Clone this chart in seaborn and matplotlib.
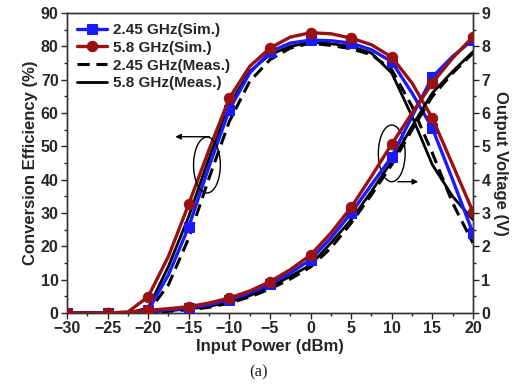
import numpy as np
import pandas as pd
import matplotlib
matplotlib.use("Agg")
import matplotlib.pyplot as plt
from matplotlib.patches import Ellipse
import seaborn as sns

# ---- data ----
power = [-30, -27.5, -25, -22.5, -20, -17.5, -15, -12.5, -10, -7.5, -5, -2.5,
         0, 2.5, 5, 7.5, 10, 12.5, 15, 17.5, 20]

eff_245_sim = [0, 0, 0, 0, 0.8, 11.5, 25.9, 44, 61, 72, 78.4, 81, 81.9, 81.7,
               81.0, 79, 75.4, 66, 55.5, 40, 24]
eff_58_sim = [0, 0, 0, 0.3, 4.9, 17, 32.7, 49, 64.5, 74, 79.5, 82.8, 84.1, 83.8,
              82.5, 80.5, 76.8, 69, 58.5, 44.5, 30.4]
eff_245_meas = [0, 0, 0, 0, 0.3, 8.5, 22.5, 40.5, 57.5, 69.5, 76, 79.5, 81, 80.3,
                79.3, 77.5, 73, 62, 48, 33, 21]
eff_58_meas = [0, 0, 0, 0, 1.5, 14, 29, 46.5, 62.5, 72.5, 77.5, 80, 81.3, 80.8,
               80, 78, 72, 59, 44.5, 35, 28]

v_245_sim = [0, 0, 0, 0.01, 0.05, 0.1, 0.15, 0.25, 0.4, 0.6, 0.87, 1.2, 1.6, 2.25,
             3.0, 3.85, 4.69, 5.9, 7.08, 7.7, 8.2]
v_58_sim = [0, 0, 0, 0.02, 0.08, 0.13, 0.19, 0.3, 0.45, 0.66, 0.94, 1.3, 1.74, 2.4,
            3.17, 4.1, 5.07, 6.0, 6.9, 7.65, 8.29]
v_245_meas = [0, 0, 0, 0, 0.02, 0.05, 0.1, 0.17, 0.3, 0.48, 0.72, 1.02, 1.38, 1.95,
              2.7, 3.55, 4.45, 5.5, 6.5, 7.2, 7.8]
v_58_meas = [0, 0, 0, 0, 0.03, 0.07, 0.12, 0.2, 0.33, 0.52, 0.78, 1.1, 1.44, 2.1,
             2.8, 3.65, 4.55, 5.6, 6.6, 7.25, 7.84]

labels = ["2.45 GHz(Sim.)", "5.8 GHz(Sim.)", "2.45 GHz(Meas.)", "5.8 GHz(Meas.)"]
x_ticks = [-30, -25, -20, -15, -10, -5, 0, 5, 10, 15, 20]

sns.set_style("ticks")
plt.rcParams['font.family'] = ['Liberation Sans', 'DejaVu Sans']
plt.rcParams['font.weight'] = 'bold'
plt.rcParams['axes.labelweight'] = 'bold'

fig = plt.figure(figsize=(5.18, 3.85), dpi=100)
ax = fig.add_axes([0.1293, 0.187, 0.7837, 0.779])
ax2 = ax.twinx()

blue = "#1a1aff"
red = "#9b1010"

styles = [
    dict(color=blue, marker="s", ms=6.5, lw=2.4, ls="-"),
    dict(color=red, marker="o", ms=7.5, lw=2.4, ls="-"),
    dict(color="black", marker=None, ms=0, lw=2.2, ls=(0, (4, 2.2))),
    dict(color="black", marker=None, ms=0, lw=2.0, ls="-"),
]

eff_series = [eff_245_sim, eff_58_sim, eff_245_meas, eff_58_meas]
v_series = [v_245_sim, v_58_sim, v_245_meas, v_58_meas]

order = [2, 3, 0, 1]
zs = {0: 3, 1: 4, 2: 2, 3: 2}
for i in order:
    st = styles[i]
    df = pd.DataFrame({"P": power, "E": eff_series[i]})
    kw = dict(color=st["color"], lw=st["lw"], linestyle=st["ls"], zorder=zs[i])
    if st["marker"]:
        kw.update(marker=st["marker"], markersize=st["ms"], markevery=2,
                  markeredgecolor=st["color"])
    sns.lineplot(data=df, x="P", y="E", ax=ax, label=labels[i], legend=False, **kw)
    dfv = pd.DataFrame({"P": power, "V": v_series[i]})
    sns.lineplot(data=dfv, x="P", y="V", ax=ax2, legend=False, **kw)

ax.set_xlim(-30, 20)
ax.set_ylim(0, 90)
ax2.set_ylim(0, 9)
ax.set_xticks(x_ticks)
ax.set_yticks(np.arange(0, 91, 10))
ax2.set_yticks(np.arange(0, 10, 1))
ax.set_xticks(np.arange(-27.5, 20, 5), minor=True)
ax.set_yticks(np.arange(5, 90, 10), minor=True)
ax2.set_yticks(np.arange(0.5, 9, 1), minor=True)

for a in (ax, ax2):
    a.tick_params(which="major", length=4, width=1, labelsize=11.5, direction="out", pad=2)
    a.tick_params(which="minor", length=2.5, width=1, direction="out")
    for s in a.spines.values():
        s.set_linewidth(1.0)
        s.set_color("#333333")
    for lab in a.get_xticklabels() + a.get_yticklabels():
        lab.set_fontweight("bold")

ax.set_xlabel("Input Power (dBm)", fontsize=12, fontweight="bold", labelpad=2)
ax.set_ylabel("Conversion Efficiency (%)", fontsize=12, fontweight="bold", labelpad=2)
ax2.set_ylabel("Output Voltage (V)", fontsize=12, fontweight="bold", rotation=270, labelpad=13)

# ellipses and arrows
ax.add_patch(Ellipse((-12.76, 44.4), 3.3, 16.8, fill=False, color="black", lw=1.0, zorder=6))
ax.annotate("", xy=(-17.0, 52.9), xytext=(-12.1, 52.9),
            arrowprops=dict(arrowstyle="-|>", color="black", lw=1.0, mutation_scale=8), zorder=6)
ax.add_patch(Ellipse((10.0, 47.9), 3.3, 17.0, fill=False, color="black", lw=1.0, zorder=6))
ax.annotate("", xy=(13.6, 39.4), xytext=(10.4, 39.4),
            arrowprops=dict(arrowstyle="-|>", color="black", lw=1.0, mutation_scale=8), zorder=6)

# legend
h, l = ax.get_legend_handles_labels()
hmap = dict(zip(l, h))
leg = ax.legend([hmap[k] for k in labels], labels, loc="upper left", frameon=False,
                handlelength=2.0, handletextpad=0.35, labelspacing=0.25,
                borderaxespad=0.45, borderpad=0.2, prop={"weight": "bold", "size": 11})

fig.text(0.5, 0.012, "(a)", ha="center", va="bottom", fontsize=12,
         family=["Liberation Serif", "DejaVu Serif"], fontweight="normal")

fig.savefig("out.png", dpi=100)
